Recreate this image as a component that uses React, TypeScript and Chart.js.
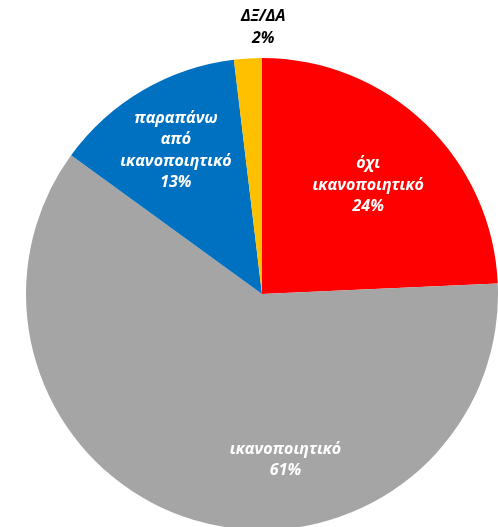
import React, { useEffect, useRef } from "react";
import { Chart, registerables } from "chart.js";

Chart.register(...registerables);

const categories = ["όχι ικανοποιητικό", "ικανοποιητικό", "παραπάνω από ικανοποιητικό", "ΔΞ/ΔΑ"];
const values = [24.3, 60.7, 13.1, 1.9];
const percentLabels = ["24%", "61%", "13%", "2%"];
const labelLines = [["όχι", "ικανοποιητικό"], ["ικανοποιητικό"], ["παραπάνω", "από", "ικανοποιητικό"], ["ΔΞ/ΔΑ"]];
const colors = ["#FF0000", "#A5A5A5", "#0070C0", "#FFC000"];
const labelColors = ["#FFFFFF", "#FFFFFF", "#FFFFFF", "#000000"];
// label placement: [radius fraction, angle shift in degrees from slice middle]
const labelPlace = [[0.645, 0.5], [0.71, -24.8], [0.71, -0.5], [1.13, 3.7]];

const labelPlugin = {
  id: "sliceLabels",
  afterDatasetsDraw(chart: any) {
    const ctx = chart.ctx;
    const meta = chart.getDatasetMeta(0);
    ctx.save();
    ctx.font = "italic bold 16px 'Open Sans'";
    ctx.textAlign = "center";
    ctx.textBaseline = "middle";
    const lh = 21.5;
    meta.data.forEach((arc: any, i: number) => {
      const { x, y, startAngle, endAngle, outerRadius } = arc.getProps(["x", "y", "startAngle", "endAngle", "outerRadius"], true);
      const mid = (startAngle + endAngle) / 2 + (labelPlace[i][1] * Math.PI) / 180;
      const r = outerRadius * labelPlace[i][0];
      const cx = x + Math.cos(mid) * r;
      const cy = y + Math.sin(mid) * r;
      const lines = [...labelLines[i], percentLabels[i]];
      const top = cy - ((lines.length - 1) * lh) / 2;
      ctx.fillStyle = labelColors[i];
      lines.forEach((t, k) => ctx.fillText(t, cx, top + k * lh));
    });
    ctx.restore();
  },
};

export default function App() {
  const ref = useRef<HTMLCanvasElement>(null);
  useEffect(() => {
    document.body.style.margin = "0";
    document.body.style.overflow = "hidden";
    const chart = new Chart(ref.current!, {
      type: "pie",
      data: {
        labels: categories,
        datasets: [{ data: values, backgroundColor: colors, borderWidth: 0 }],
      },
      options: {
        animation: false,
        responsive: false,
        layout: { padding: { left: 26, right: 0, top: 58, bottom: 0 } },
        plugins: { legend: { display: false }, tooltip: { enabled: false } },
      },
      plugins: [labelPlugin],
    });
    return () => chart.destroy();
  }, []);
  return (
    <div style={{ width: 498, height: 527, overflow: "hidden", background: "#fff" }}>
      <canvas ref={ref} width={498} height={530} style={{ display: "block" }} />
    </div>
  );
}
